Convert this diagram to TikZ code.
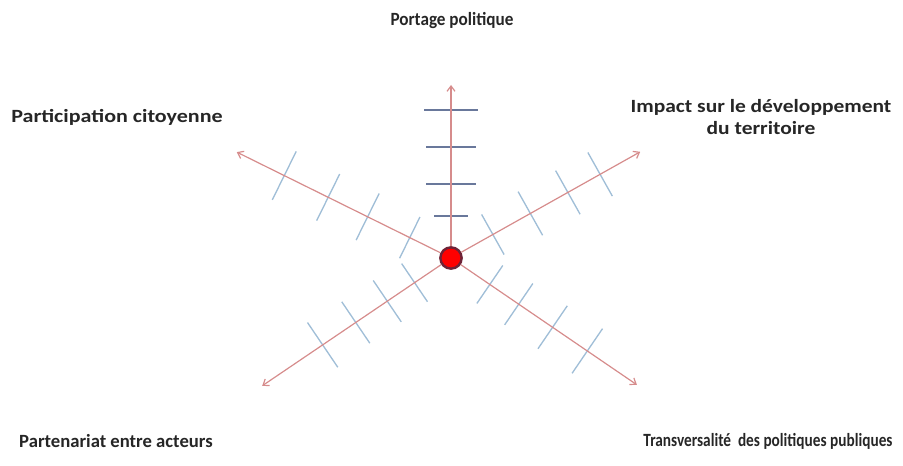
\documentclass[tikz,border=0pt]{standalone}
\usepackage{fontspec}
\setmainfont{Carlito}
\usetikzlibrary{arrows.meta}
\definecolor{branchred}{RGB}{214,140,140}
\definecolor{gradblue}{RGB}{160,190,215}
\definecolor{gradgrey}{RGB}{105,120,155}
\definecolor{dotrim}{RGB}{110,35,55}
\tikzset{
  branch/.style={draw=branchred,line width=0.9pt,-{Straight Barb[length=4pt,width=6pt]}},
  graduation/.style={gradblue,line width=1pt},
  dot/.style={circle,fill=red,draw=dotrim,line width=1.8pt,minimum size=16pt,inner sep=0pt},
  axislabel/.style={font=\bfseries\fontsize{14}{17}\selectfont\addfontfeatures{FakeStretch=#1},
    text=black!85,align=center},
  axislabel/.default=1,
}
\begin{document}
\begin{tikzpicture}[x=0.75pt,y=0.75pt]
  \useasboundingbox (0,0) rectangle (903,-466);
  % graduations
  \foreach \d/\l in {42/34,74/50,111/50,148/54}
    \draw[graduation,gradgrey] ([shift={(90:\d)}]451,-258) ++(180:\l/2) -- ++(0:\l);
  \foreach \ang/\d/\l in {29.3/48/46,29.3/91/50,29.3/134/50,29.3/171/50,
                          153.7/46/46,153.7/93/52,153.7/137/52,153.7/186/54,
                          214.1/44/46,214.1/77/50,214.1/115/50,214.1/155/54,
                          -34.3/47/46,-34.3/82/50,-34.3/123/52,-34.3/165/54}
    \draw[graduation] ([shift={(\ang:\d)}]451,-258) ++(\ang+90:\l/2) -- ++(\ang-90:\l);

  \node[dot] (c) at (451,-258) {};
  \foreach \name/\ang/\len in {up/90/173,ur/29.3/217,ul/153.7/239,ll/214.1/228,lr/-34.3/225}
    \coordinate (\name) at ([shift={(\ang:\len)}]451,-258);
  \foreach \name in {up,ur,ul,ll,lr}
    \draw[branch] (c) -- (\name);

  \node[axislabel=0.92] (portage) at (452,-21) {Portage politique};
  \node[axislabel=1.18] (participation) at (117,-117) {Participation citoyenne};
  \node[axislabel=1.15] (impact) at (761,-117) {Impact sur le développement\\du territoire};
  \node[axislabel] (partenariat) at (116,-441) {Partenariat entre acteurs};
  \node[axislabel=0.82] (transversalite) at (768,-441) {Transversalité\ \ des politiques publiques};
\end{tikzpicture}
\end{document}
